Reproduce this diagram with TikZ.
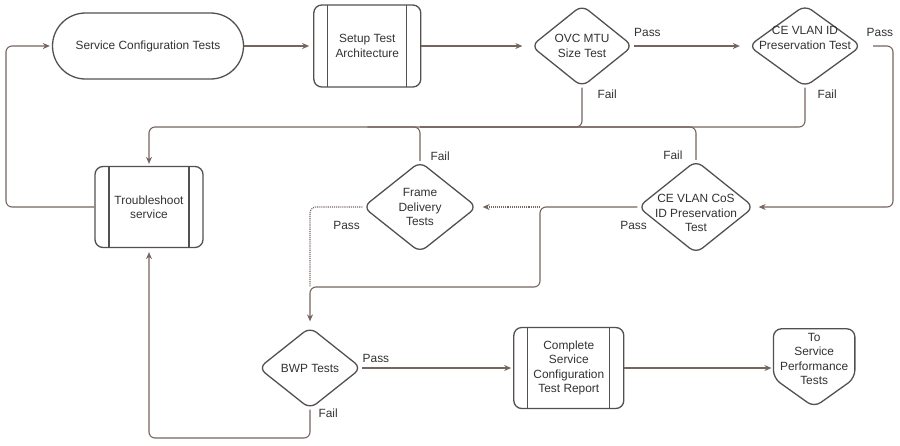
\documentclass[tikz,border=0pt]{standalone}
\usepackage{fontspec}
\setmainfont{Liberation Sans}
\usetikzlibrary{shapes.geometric,arrows.meta,positioning,calc}
\definecolor{flowline}{RGB}{118,100,95}
\definecolor{boxline}{RGB}{84,80,80}
\definecolor{txtgray}{RGB}{50,50,50}

\begin{document}
\begin{tikzpicture}[
    x=1pt, y=-1pt,
    font=\fontsize{11.9}{14.5}\selectfont,
    every node/.style={text=txtgray},
    termbox/.style={rectangle, draw=boxline, line width=1.3pt, rounded corners=33pt,
        minimum width=191pt, minimum height=66pt, align=center},
    procbox/.style={rectangle, draw=boxline, line width=1.3pt, rounded corners=8pt,
        minimum width=108pt, minimum height=81pt, align=center,
        path picture={
            \draw[boxline, line width=1.3pt]
                ([xshift=14pt]path picture bounding box.north west) -- ([xshift=14pt]path picture bounding box.south west)
                ([xshift=-14pt]path picture bounding box.north east) -- ([xshift=-14pt]path picture bounding box.south east);
        }},
    decision/.style={diamond, draw=boxline, line width=1.3pt, rounded corners=8pt,
        inner sep=0pt},
    dtext/.style={align=center, inner sep=0pt},
    lbl/.style={inner sep=1pt},
    flow/.style={draw=flowline, line width=1.1pt, rounded corners=6pt},
    >={Stealth[length=7pt,width=6pt]}
]
\useasboundingbox (0,0) rectangle (900,445);

% top row
\node[termbox] (sct) at (148,46) {Service Configuration Tests};
\node[procbox, right=69pt of sct, minimum width=107pt, minimum height=82pt] (setup) {Setup Test\\Architecture};
\node[decision, minimum width=102pt, minimum height=82pt,
    label={[dtext]center:OVC MTU\\Size Test}] (ovc) at (582,46) {};
\node[decision, minimum width=113pt, minimum height=82pt,
    label={[dtext, yshift=8pt]center:CE VLAN ID\\Preservation Test}] (ceid) at (805,46) {};

% middle row
\node[procbox] (trouble) at (149,207) {Troubleshoot\\service};
\node[decision, minimum width=114pt, minimum height=91pt,
    label={[dtext]center:Frame\\Delivery\\Tests}] (frame) at (420,207) {};
\node[decision, minimum width=116pt, minimum height=93pt,
    label={[dtext, yshift=-6pt]center:CE VLAN CoS\\ID Preservation\\Test}] (cos) at (696,207) {};

% bottom row
\node[decision, minimum width=103pt, minimum height=82pt,
    label={[dtext]center:BWP Tests}] (bwp) at (310,368) {};
\node[procbox, right=151pt of bwp, minimum width=110pt] (report) {Complete\\Service\\Configuration\\Test Report};
\node[minimum width=81pt, minimum height=78pt, inner sep=0pt, right=149pt of report,
    label={[dtext, yshift=9pt]center:To\\Service\\Performance\\Tests}] (perf) {};
\draw[boxline, line width=1.3pt, rounded corners=8pt] (perf.north) -- (perf.north east)
    -- ([yshift=29pt]perf.south east) -- (perf.south) -- ([yshift=29pt]perf.south west)
    -- (perf.north west) -- cycle;

% way points
\coordinate (bus) at (0,127);
\coordinate (rt) at (893,0);
\coordinate (fork) at (540,207);
\coordinate (low) at (0,287);
\coordinate (lft) at (6,0);
\coordinate (btm) at (0,438);

% main flow
\draw[flow, ->, shorten >=4pt] (sct.east) -- (setup.west);
\draw[flow, ->, shorten >=8pt] (setup.east) -- (ovc.west);
\draw[flow, ->, shorten >=8pt] (ovc.east) node[lbl, anchor=south west, xshift=-1pt, yshift=8pt] {Pass} -- (ceid.west);
\draw[flow, ->, shorten <=11pt, shorten >=4pt] (ceid.east) node[lbl, anchor=south west, xshift=3pt, yshift=8pt] {Pass}
    -- (ceid.east -| rt) -- (rt |- cos.east) -- (cos.east);
\draw[flow, ->, shorten >=5pt] (cos.west) node[lbl, anchor=north east, xshift=11pt, yshift=-13pt] {Pass}
    -- (fork) -- (fork |- low) -- (bwp.north |- low) -- (bwp.north);
\draw[flow, densely dotted, ->, shorten >=5pt] (fork) -- (frame.east);
\draw[flow, densely dotted] (frame.west) node[lbl, anchor=north east, xshift=-1pt, yshift=-13pt] {Pass}
    -- (frame.west -| bwp.north) -- (bwp.north |- low);
\draw[flow, ->, shorten >=2pt] (bwp.east) node[lbl, anchor=south west, xshift=-1pt, yshift=4pt] {Pass} -- (report.west);
\draw[flow, ->, shorten >=2pt] (report.east) -- (report.east -| perf.west);

% fail branches
\draw[flow, ->, shorten >=2pt] (ovc.south) node[lbl, anchor=north west, xshift=14pt, yshift=-1pt] {Fail}
    -- (ovc.south |- bus) -- (trouble.north |- bus) -- (trouble.north);
\draw[flow] (ceid.south) node[lbl, anchor=north west, xshift=11pt, yshift=-1pt] {Fail}
    -- (ceid.south |- bus) -- (frame.north |- bus);
\draw[flow] (cos.north) node[lbl, anchor=south east, xshift=-12pt, yshift=-1pt] {Fail}
    -- (cos.north |- bus) -- (frame.north |- bus);
\draw[flow] (frame.north) node[lbl, anchor=south west, xshift=9pt, yshift=-1pt] {Fail}
    -- (frame.north |- bus) -- (setup.south |- bus);
\draw[flow, ->, shorten >=4pt] (bwp.south) node[lbl, anchor=north west, xshift=7pt, yshift=2pt] {Fail}
    -- (bwp.south |- btm) -- (trouble.south |- btm) -- (trouble.south);
\draw[flow, ->, shorten >=2pt] (trouble.west) -- (trouble.west -| lft) -- (lft |- sct.west) -- (sct.west);
\end{tikzpicture}
\end{document}
